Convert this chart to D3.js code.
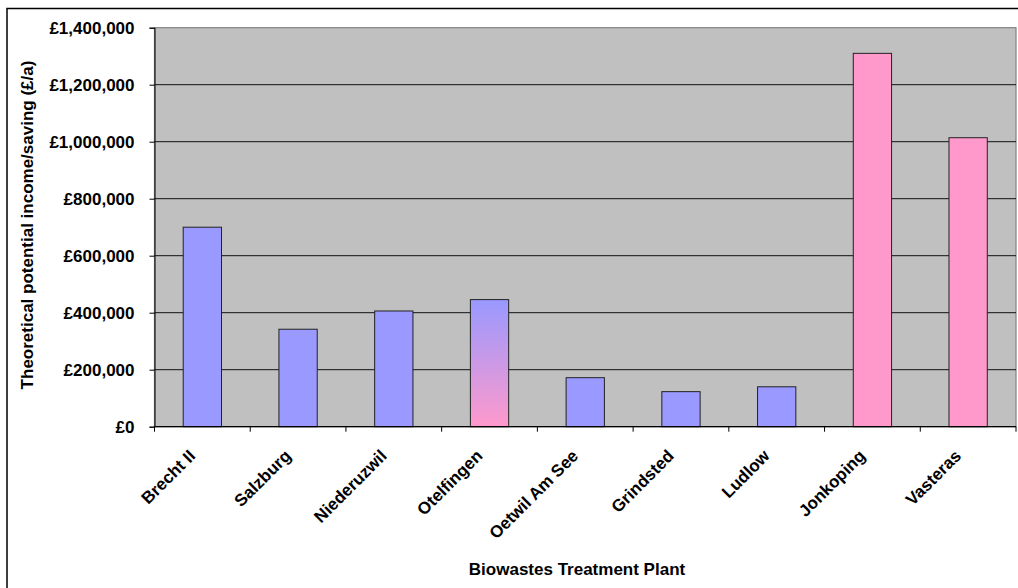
<!DOCTYPE html>
<html>
<head>
<meta charset="utf-8">
<script src="https://cdn.jsdelivr.net/npm/d3@7"></script>
<style>
  html, body { margin: 0; padding: 0; background: #fff; }
  svg { display: block; }
  text { font-family: "Liberation Sans", Arial, sans-serif; font-weight: bold; fill: #000; }
</style>
</head>
<body>
<svg id="chart" width="1018" height="588"></svg>
<script>
// Plants and their theoretical potential income/saving (£ per year)
const plants = ["Brecht II", "Salzburg", "Niederuzwil", "Otelfingen", "Oetwil Am See",
                "Grindsted", "Ludlow", "Jonkoping", "Vasteras"];
const income = [700000, 342000, 406000, 446000, 172000, 123000, 140000, 1310000, 1014000];
// Fill style per plant: "blue", "pink" or "mixed" (blue fading into pink)
const fillKind = ["blue", "blue", "blue", "mixed", "blue", "blue", "blue", "pink", "pink"];
const yTicks = [0, 200000, 400000, 600000, 800000, 1000000, 1200000, 1400000];

const BLUE = "#9999FF", PINK = "#FF99CC";

const svg = d3.select("#chart");
const m = { left: 154.5, right: 1016, top: 27.7, bottom: 426.7 };

// outer chart frame
svg.append("rect")
  .attr("x", 7).attr("y", 8.5).attr("width", 1030).attr("height", 600)
  .attr("fill", "none").attr("stroke", "#000").attr("stroke-width", 1.5);

const x = d3.scaleBand().domain(plants).range([m.left, m.right])
  .paddingInner(0.6).paddingOuter(0.3);
const y = d3.scaleLinear().domain([0, 1400000]).range([m.bottom, m.top]);

const defs = svg.append("defs");
const grad = defs.append("linearGradient").attr("id", "mixFill")
  .attr("x1", 0).attr("y1", 0).attr("x2", 0).attr("y2", 1);
grad.append("stop").attr("offset", "0%").attr("stop-color", BLUE);
grad.append("stop").attr("offset", "100%").attr("stop-color", PINK);

// plot area
svg.append("rect")
  .attr("x", m.left).attr("y", m.top)
  .attr("width", m.right - m.left).attr("height", m.bottom - m.top)
  .attr("fill", "#C0C0C0").attr("stroke", "#808080").attr("stroke-width", 1.2);

// horizontal gridlines
svg.append("g").selectAll("line")
  .data(yTicks.filter(t => t > 0 && t < 1400000))
  .join("line")
  .attr("x1", m.left).attr("x2", m.right)
  .attr("y1", d => y(d)).attr("y2", d => y(d))
  .attr("stroke", "#111").attr("stroke-width", 1);

// bars
svg.append("g").selectAll("rect")
  .data(plants.map((p, i) => ({ p, v: income[i], k: fillKind[i] })))
  .join("rect")
  .attr("x", d => x(d.p))
  .attr("y", d => y(d.v))
  .attr("width", x.bandwidth())
  .attr("height", d => y(0) - y(d.v))
  .attr("fill", d => d.k === "blue" ? BLUE : d.k === "pink" ? PINK : "url(#mixFill)")
  .attr("stroke", "#222").attr("stroke-width", 1);

// y axis
const yAxis = svg.append("g").attr("transform", `translate(${m.left},0)`)
  .call(d3.axisLeft(y).tickValues(yTicks).tickSize(5).tickPadding(15)
    .tickFormat(d => "£" + d3.format(",")(d)));
yAxis.select(".domain").attr("stroke", "#000");
yAxis.selectAll(".tick line").attr("stroke", "#000");
yAxis.selectAll(".tick text")
  .attr("dy", "0.36em")
  .style("font-size", "17px");

// x axis with boundary ticks between categories
const step = x.step();
const bounds = d3.range(plants.length + 1).map(i => m.left + i * step);
svg.append("line")
  .attr("x1", m.left).attr("x2", m.right)
  .attr("y1", m.bottom).attr("y2", m.bottom)
  .attr("stroke", "#000").attr("stroke-width", 1.2);
svg.append("g").selectAll("line").data(bounds).join("line")
  .attr("x1", d => d).attr("x2", d => d)
  .attr("y1", m.bottom).attr("y2", m.bottom + 5)
  .attr("stroke", "#000");

svg.append("g").selectAll("text").data(plants).join("text")
  .attr("text-anchor", "end")
  .style("font-size", "17px")
  .attr("transform", d => `translate(${x(d) + x.bandwidth() / 2 - 6},457) rotate(-45)`)
  .text(d => d);

// axis titles
svg.append("text")
  .attr("text-anchor", "middle")
  .style("font-size", "17px")
  .attr("transform", "translate(33,225) rotate(-90)")
  .text("Theoretical potential income/saving (£/a)");

svg.append("text")
  .attr("x", 577).attr("y", 575)
  .attr("text-anchor", "middle")
  .style("font-size", "17px")
  .text("Biowastes Treatment Plant");
</script>
</body>
</html>
